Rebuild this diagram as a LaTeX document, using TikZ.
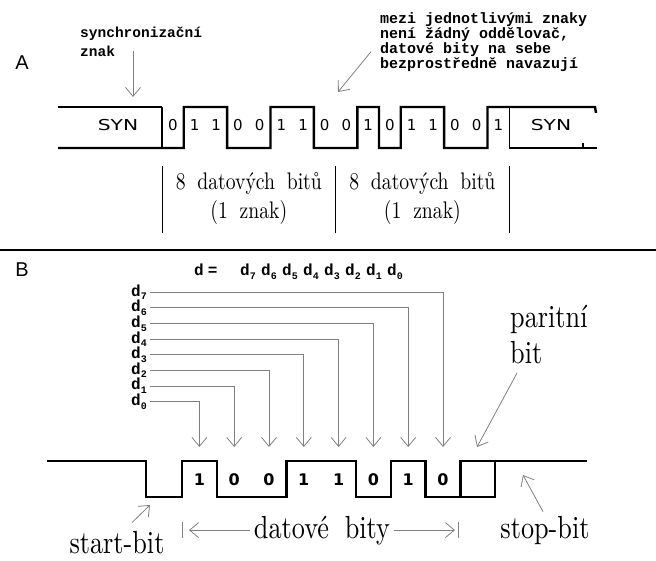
\documentclass[tikz,border=0pt]{standalone}
\usepackage{fontspec}
\newfontfamily\typfont{Liberation Mono}
\newfontfamily\helvfont{Liberation Sans}
\newfontfamily\bitfont{DejaVu Sans}
\newfontfamily\tallfont{lmroman10-regular.otf}[FakeStretch=0.82,WordSpace=1.8]
\usetikzlibrary{arrows.meta}

\newcommand{\dsub}[1]{d\raisebox{-3.5pt}{\fontsize{10}{10}\selectfont #1}}

\tikzset{
  sig/.style={line width=2.4pt},
  thinsig/.style={line width=1.2pt},
  conn/.style={draw=gray, line width=0.8pt, -{Straight Barb[length=9pt,width=15pt]}},
  letter/.style={font={\helvfont\fontsize{20}{20}\selectfont}, inner sep=0pt},
  note/.style={font={\typfont\bfseries\fontsize{14.5}{19}\selectfont}, inner sep=0pt, align=left},
  notetight/.style={note, font={\typfont\bfseries\fontsize{15}{12.8}\selectfont}},
  dfont/.style={font={\typfont\bfseries\fontsize{16}{16}\selectfont}, inner sep=0pt},
  bitA/.style={font={\bitfont\fontsize{15}{15}\selectfont}, inner sep=0pt},
  bitB/.style={font={\bitfont\bfseries\fontsize{16}{16}\selectfont}, inner sep=0pt},
  serifA/.style={font={\tallfont\fontsize{24}{29}\selectfont}, inner sep=0pt},
  tall/.style={font={\tallfont\fontsize{32}{36}\selectfont}, inner sep=0pt}
}

\begin{document}
\begin{tikzpicture}[x=1pt,y=-1pt]
\useasboundingbox (0,0) rectangle (656,561);

% ---- part A ----
\node[letter] (A) at (22,63) {A};
\node[note, anchor=north west] (sync) at (80,27) {synchronizační\\znak};
\node[notetight, anchor=north west] (gap) at (380,12) {mezi jednotlivými znaky\\není žádný oddělovač,\\datové bity na sebe\\bezprostředně navazují};
\coordinate (synctip) at (133,97);
\coordinate (gaptip) at (338,92);
\draw[conn] ([yshift=6pt]sync.south -| synctip) -- (synctip);
\draw[conn] ([shift={(-9pt,-10pt)}]gap.west) -- (gaptip);

% signal
\draw[sig] (58,107) -- (162,107);
\draw[sig] (58,148) -- (183.7,148) -- (183.7,107) -- (227.1,107) -- (227.1,148) -- (270.5,148) -- (270.5,107)
  -- (313.9,107) -- (313.9,148) -- (357.3,148) -- (357.3,107) -- (379,107) -- (379,148) -- (400.7,148)
  -- (400.7,107) -- (444.1,107) -- (444.1,148) -- (487.5,148) -- (487.5,107) -- (595,107) -- (596,113);
\draw[sig] (509.2,148) -- (597,148);
\draw[thinsig] (162,107) -- (162,148);
\draw[thinsig] (509.2,107) -- (509.2,148);
\draw[thinsig] (583,148) -- (583,143);
\node[bitA] (syn1) at (118,125) {\scalebox{1.35}[1]{SYN}};
\node[bitA] (syn2) at (551,125) {\scalebox{1.35}[1]{SYN}};
\foreach \v [count=\k from 0] in {0,1,1,0,0,1,1,0,0,1,0,1,1,0,0,1}
  \node[bitA] (a\k) at (172.85+21.7*\k,125) {\v};

% characters
\foreach \x in {162,335.6,509.2}
  \draw[line width=1pt] (\x,166) -- (\x,233);
\node[serifA] (ch1) at (248.8,184) {8 datových bitů};
\node[serifA] (zn1) at (248.8,213) {(1 znak)};
\node[serifA] (ch2) at (422.4,184) {8 datových bitů};
\node[serifA] (zn2) at (422.4,213) {(1 znak)};

\draw[line width=1.3pt] (0,250) -- (656,250);

% ---- part B ----
\node[letter] (B) at (22,270) {B};
\node[dfont, anchor=base west] (dword) at (194,276) {d\hspace{4pt}=\hspace{22.8pt}\dsub7\hspace{5.4pt}\dsub6\hspace{5.4pt}\dsub5\hspace{5.4pt}\dsub4\hspace{5.4pt}\dsub3\hspace{5.4pt}\dsub2\hspace{5.4pt}\dsub1\hspace{5.4pt}\dsub0};

% frame
\draw[sig] (47,461) -- (146,461) -- (146,497) -- (182,497) -- (182,461) -- (216.8,461) -- (216.8,497)
  -- (286.4,497) -- (286.4,461) -- (356,461) -- (356,497) -- (390.8,497) -- (390.8,461) -- (425.6,461)
  -- (425.6,497) -- (460.4,497) -- (460.4,461) -- (587,461);
\draw[sig] (460.4,497) -- (495.2,497) -- (495.2,461);
\foreach \v [count=\i from 0] in {1,0,0,1,1,0,1,0}
  \node[bitB] (b\i) at (199.4+34.8*\i,480) {\v};

% bit lines
\coordinate (tipline) at (0,447);
\foreach \i in {0,...,7} {
  \coordinate (s\i) at (150,401.5-15.6*\i);
  \node[dfont, anchor=base east] (d\i) at ([shift={(-3pt,-4pt)}]s\i) {\dsub\i};
  \draw[conn] (s\i) -| (b\i |- tipline);
}

% labels
\node[tall, anchor=north west, align=left] (parity) at (510,305) {paritní\\bit};
\node[tall, anchor=base] (startb) at (117,553) {start-bit};
\node[tall, anchor=base] (dbits) at (322,538) {datové bity};
\node[tall, anchor=base] (stopb) at (545,538) {stop-bit};
\coordinate (paritytip) at (477,447);
\coordinate (starttip) at (150,505);
\coordinate (stoptip) at (523,475);
\coordinate (lt) at (182,530);
\coordinate (rt) at (458,530);
\draw[conn] ([shift={(7pt,-9pt)}]parity.south west) -- (paritytip);
\draw[conn] ([shift={(15pt,8pt)}]startb.north) -- (starttip);
\draw[conn] ([shift={(-2pt,4pt)}]stopb.north) -- (stoptip);
\draw[conn, shorten >=7pt] ([xshift=-4pt]dbits.west) -- (dbits.west -| lt);
\draw[conn, shorten >=3pt] ([xshift=4pt]dbits.east) -- (dbits.east -| rt);
\draw[draw=gray, line width=0.8pt] ([yshift=-8pt]dbits.west -| lt) -- ([yshift=8pt]dbits.west -| lt);
\draw[draw=gray, line width=0.8pt] ([yshift=-8pt]dbits.east -| rt) -- ([yshift=8pt]dbits.east -| rt);
\end{tikzpicture}
\end{document}
